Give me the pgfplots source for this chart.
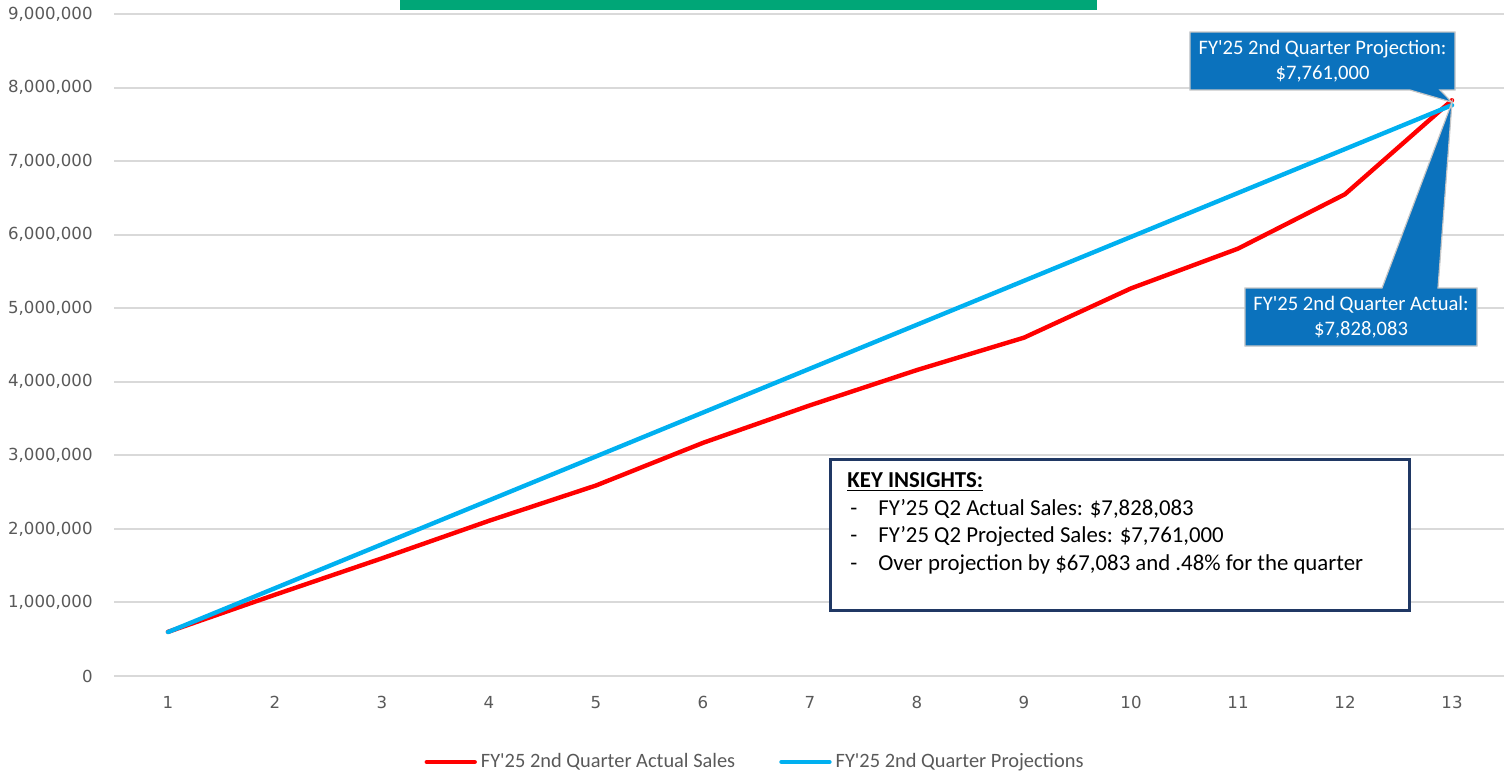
\documentclass[border=0pt]{standalone}
\usepackage{pgfplots}
\pgfplotsset{compat=1.18}
\usepackage{fontspec}
\setmainfont{Carlito}
\newfontfamily\tickfont{DejaVu Sans}

\definecolor{actualred}{HTML}{FF0000}
\definecolor{projblue}{HTML}{00B0F0}
\definecolor{gridgray}{HTML}{D9D9D9}
\definecolor{labelgray}{HTML}{595959}
\definecolor{calloutblue}{HTML}{0B72BD}
\definecolor{boxnavy}{HTML}{203864}
\definecolor{titlegreen}{HTML}{00A677}

\begin{document}
\begin{tikzpicture}
\useasboundingbox (-57.25pt,-48pt) rectangle (694.75pt,338pt);
\begin{axis}[
    at={(0pt,0pt)}, anchor=south west,
    scale only axis, width=695.5pt, height=331pt,
    xmin=0.5, xmax=13.5, ymin=0, ymax=9000000,
    xtick={1,2,3,4,5,6,7,8,9,10,11,12,13},
    ytick={0,1000000,2000000,3000000,4000000,5000000,6000000,7000000,8000000,9000000},
    scaled y ticks=false,
    /pgf/number format/.cd, fixed, precision=0, 1000 sep={,}, assume math mode=true,
    /pgfplots/.cd,
    axis line style={draw=none},
    major tick length=0pt,
    ymajorgrids, grid style={gridgray, line width=1pt},
    yticklabel style={font={\tickfont\fontsize{8.3}{10}\selectfont}, text=labelgray, anchor=east, inner sep=0pt, xshift=-10.75pt},
    xticklabel style={font={\tickfont\fontsize{8.3}{10}\selectfont}, text=labelgray, anchor=north, inner sep=0pt, yshift=-10pt},
    clip=false,
    legend style={at={(0.4612,-0.1299)}, anchor=center, draw=none, fill=none,
        legend columns=2, text=labelgray, font={\fontsize{10.2}{12}\selectfont},
        /tikz/every even column/.append style={column sep=20pt}},
    legend image code/.code={\draw[#1] (0pt,0pt) -- (24pt,0pt);},
]
% title box, cut off at the top of the picture
\fill[titlegreen] (axis cs:3.168,9054000) rectangle (axis cs:9.682,9800000);

\addplot[actualred, line width=2.2pt, line cap=round, line join=round] coordinates {
    (1,600000) (2,1105000) (3,1600000) (4,2110000) (5,2590000) (6,3170000) (7,3680000)
    (8,4160000) (9,4600000) (10,5270000) (11,5810000) (12,6550000) (13,7828083)
};
\addlegendentry{FY\textquotesingle25 2nd Quarter Actual Sales}
\addplot[projblue, line width=2.2pt, line cap=round, line join=round] coordinates {
    (1,597000) (2,1194000) (3,1791000) (4,2388000) (5,2985000) (6,3582000) (7,4179000)
    (8,4776000) (9,5373000) (10,5970000) (11,6567000) (12,7164000) (13,7761000)
};
\addlegendentry{FY\textquotesingle25 2nd Quarter Projections}

% callouts
\filldraw[fill=calloutblue, draw=gray!45, line width=0.6pt]
    (axis cs:10.551,8755000) -- (axis cs:13.028,8755000) -- (axis cs:13.028,7967000)
    -- (axis cs:12.888,7967000) -- (axis cs:13,7800000) -- (axis cs:12.607,7967000)
    -- (axis cs:10.551,7967000) -- cycle;
\node[text=white, align=center, font={\fontsize{10.3}{12.5}\selectfont}]
    at (axis cs:11.79,8361000) {FY\textquotesingle25 2nd Quarter Projection:\\\$7,761,000};

\filldraw[fill=calloutblue, draw=gray!45, line width=0.6pt]
    (axis cs:11.065,5275000) -- (axis cs:12.346,5275000) -- (axis cs:13,7800000)
    -- (axis cs:12.869,5275000) -- (axis cs:13.234,5275000) -- (axis cs:13.234,4486000)
    -- (axis cs:11.065,4486000) -- cycle;
\node[text=white, align=center, font={\fontsize{10.3}{12.5}\selectfont}]
    at (axis cs:12.15,4881000) {FY\textquotesingle25 2nd Quarter Actual:\\\$7,828,083};

% key insights box
\filldraw[fill=white, draw=boxnavy, line width=1.5pt]
    (axis cs:7.187,2937000) rectangle (axis cs:12.607,897000);
\node[anchor=north west, inner sep=0pt, align=left, font={\fontsize{11.4}{13.75}\selectfont}]
    at (axis cs:7.346,2770000) {\underline{\textbf{KEY INSIGHTS:}}\\
    \hspace{1.5pt}\makebox[14pt][l]{-}FY’25 Q2 Actual Sales: \$7,828,083\\
    \hspace{1.5pt}\makebox[14pt][l]{-}FY’25 Q2 Projected Sales: \$7,761,000\\
    \hspace{1.5pt}\makebox[14pt][l]{-}Over projection by \$67,083 and .48\% for the quarter};
\end{axis}
\end{tikzpicture}
\end{document}
